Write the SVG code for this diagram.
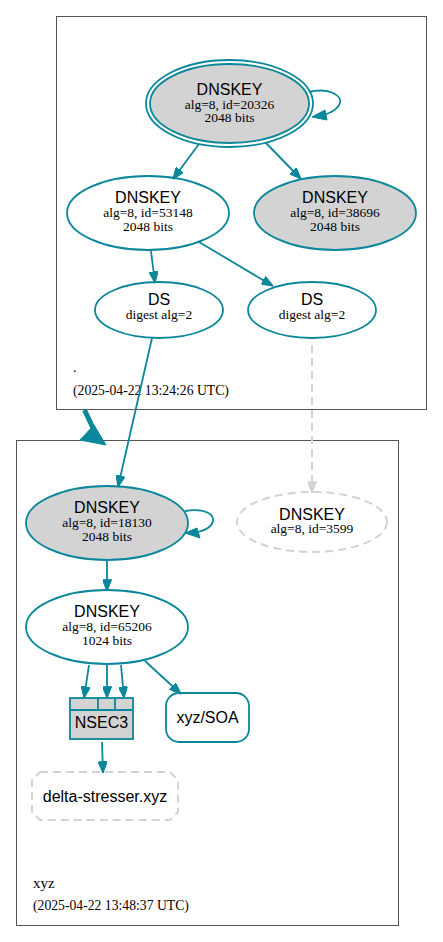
<svg xmlns="http://www.w3.org/2000/svg" width="443" height="942" viewBox="0 0 443 942">
<style>
.cl{fill:#fff;stroke:#555;stroke-width:1}
.n{fill:#fff;stroke:#0a879a;stroke-width:1.8}
.f{fill:#d3d3d3}
.d{fill:#fff;stroke:#d3d3d3;stroke-width:2;stroke-dasharray:8,5}
.e{fill:none;stroke:#0a879a;stroke-width:1.8}
.eg{fill:none;stroke:#d3d3d3;stroke-width:2;stroke-dasharray:8,5}
.h{font-family:"Liberation Sans",Arial,sans-serif;font-size:16px;text-anchor:middle;fill:#000}
.s{font-family:"Liberation Serif","Times New Roman",serif;font-size:13.5px;text-anchor:middle;fill:#000}
.l{font-family:"Liberation Serif","Times New Roman",serif;font-size:13.7px;fill:#000}
</style>
<defs>
<marker id="a" viewBox="0 0 10 8" refX="10" refY="4" markerWidth="12" markerHeight="9" markerUnits="userSpaceOnUse" orient="auto"><path d="M0,0 L10,4 L0,8 z" fill="#0a879a" stroke="#0a879a"/></marker>
<marker id="g" viewBox="0 0 10 8" refX="10" refY="4" markerWidth="12" markerHeight="9" markerUnits="userSpaceOnUse" orient="auto"><path d="M0,0 L10,4 L0,8 z" fill="#d3d3d3" stroke="#d3d3d3"/></marker>
</defs>
<rect width="443" height="942" fill="#fff"/>
<g id="cluster-root">
<rect class="cl" x="56.5" y="16.5" width="370" height="393"/>
<text class="l" x="73" y="372">.</text>
<text class="l" x="73" y="395">(2025-04-22 13:24:26 UTC)</text>
</g>
<g id="cluster-xyz">
<rect class="cl" x="16.5" y="440.5" width="382" height="485"/>
<text class="l" x="33" y="888" style="font-size:15px">xyz</text>
<text class="l" x="33" y="910">(2025-04-22 13:48:37 UTC)</text>
</g>
<g id="node-20326">
<ellipse class="n" cx="229.5" cy="103.5" rx="83.5" ry="43.5"/>
<ellipse class="n f" cx="229.5" cy="103.5" rx="79.5" ry="39.5"/>
<text class="h" x="229.5" y="94.5">DNSKEY</text>
<text class="s" x="229.5" y="108.5">alg=8, id=20326</text>
<text class="s" x="229.5" y="122">2048 bits</text>
</g>
<g id="node-53148">
<ellipse class="n" cx="148" cy="213" rx="81" ry="37"/>
<text class="h" x="148" y="203">DNSKEY</text>
<text class="s" x="148" y="217">alg=8, id=53148</text>
<text class="s" x="148" y="230.5">2048 bits</text>
</g>
<g id="node-38696">
<ellipse class="n f" cx="335" cy="213" rx="81" ry="37"/>
<text class="h" x="335" y="203">DNSKEY</text>
<text class="s" x="335" y="217">alg=8, id=38696</text>
<text class="s" x="335" y="230.5">2048 bits</text>
</g>
<g id="node-ds1">
<ellipse class="n" cx="159" cy="310" rx="64" ry="28"/>
<text class="h" x="159" y="305">DS</text>
<text class="s" x="159" y="319">digest alg=2</text>
</g>
<g id="node-ds2">
<ellipse class="n" cx="312" cy="310" rx="64" ry="28"/>
<text class="h" x="312" y="305">DS</text>
<text class="s" x="312" y="319">digest alg=2</text>
</g>
<g id="node-18130">
<ellipse class="n f" cx="107" cy="523" rx="81" ry="37"/>
<text class="h" x="107" y="513">DNSKEY</text>
<text class="s" x="107" y="527">alg=8, id=18130</text>
<text class="s" x="107" y="540.5">2048 bits</text>
</g>
<g id="node-3599">
<ellipse class="d" cx="312" cy="522" rx="75" ry="30"/>
<text class="h" x="312" y="519.5">DNSKEY</text>
<text class="s" x="312" y="533">alg=8, id=3599</text>
</g>
<g id="node-65206">
<ellipse class="n" cx="107" cy="627" rx="81" ry="37"/>
<text class="h" x="107" y="617">DNSKEY</text>
<text class="s" x="107" y="631">alg=8, id=65206</text>
<text class="s" x="107" y="644.5">1024 bits</text>
</g>
<g id="node-nsec3">
<rect class="n f" x="70" y="698" width="63" height="41"/>
<path d="M70,710 H133 M98,698 V710 M115,698 V710" fill="none" stroke="#0a879a" stroke-width="1.8"/>
<text class="h" x="101.5" y="728">NSEC3</text>
</g>
<g id="node-soa">
<rect class="n" x="166" y="693" width="83" height="49" rx="13"/>
<text class="h" x="207.5" y="723">xyz/SOA</text>
</g>
<g id="node-delta">
<path class="d" d="M40,772 H170 L178,780 V812 L170,820 H40 L32,812 V780 Z"/>
<text class="h" x="105" y="802">delta-stresser.xyz</text>
</g>
<g id="edges">
<path class="e" d="M309,92 C330,87 342,96 340,103 C338,110 330,113 324,115"/>
<polygon points="312,117 325,110 327,120" fill="#0a879a" stroke="#0a879a"/>
<path class="e" d="M185,511 C205,508 214,514 213,521 C212,527 206,530 198,532"/>
<polygon points="185,533 197,528 200,538" fill="#0a879a" stroke="#0a879a"/>
<path class="e" d="M199,144 L173,179" marker-end="url(#a)"/>
<path class="e" d="M266,143 L301,179" marker-end="url(#a)"/>
<path class="e" d="M151,251 L155,283" marker-end="url(#a)"/>
<path class="e" d="M199,242 L273,286" marker-end="url(#a)"/>
<path class="e" d="M152,338 L118,487" marker-end="url(#a)"/>
<path class="eg" d="M312,345 L312,493" marker-end="url(#g)"/>
<path class="e" d="M107,561 L107,591" marker-end="url(#a)"/>
<path class="e" d="M89,665 L84,698" marker-end="url(#a)"/>
<path class="e" d="M107,665 L107,698" marker-end="url(#a)"/>
<path class="e" d="M121,665 L124,698" marker-end="url(#a)"/>
<path class="e" d="M145,661 L181,694" marker-end="url(#a)"/>
<path class="e" d="M102,742 L103,773" marker-end="url(#a)"/>
<path d="M84.5,410 L93,428" fill="none" stroke="#0a879a" stroke-width="5"/>
<polygon points="80,440 94,425 106,445" fill="#0a879a" stroke="#0a879a"/>
</g>
</svg>
